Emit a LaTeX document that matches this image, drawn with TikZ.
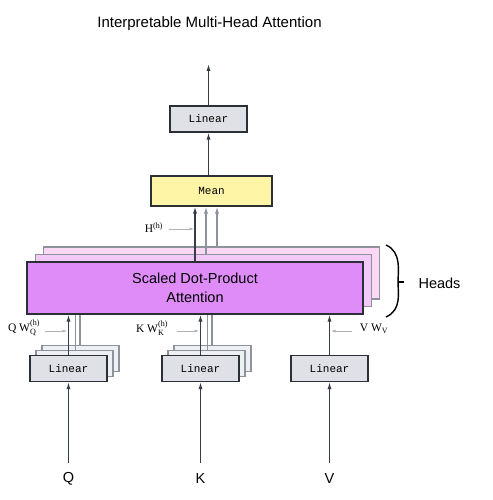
\documentclass[tikz,border=0pt]{standalone}
\usepackage{amsmath}
\usepackage{fontspec}
\setmainfont{Liberation Sans}
\newfontfamily\codefont{Liberation Mono}
\newfontfamily\labelfont{Liberation Serif}
\usetikzlibrary{arrows.meta}

\definecolor{ink}{HTML}{363C48}
\definecolor{edge}{HTML}{2B2F36}
\definecolor{faint}{HTML}{8E929C}
\definecolor{lingray}{HTML}{DFE1E6}
\definecolor{linpale}{HTML}{EEF0F3}
\definecolor{meanyel}{HTML}{FFF5A6}
\definecolor{attn}{HTML}{DF8CF9}
\definecolor{attnmid}{HTML}{F2C9F7}
\definecolor{attnback}{HTML}{FCD8F4}

\begin{document}
\begin{tikzpicture}[x=1pt,y=-1pt,>={Latex[length=7pt,width=4.2pt]},
  box/.style={draw=edge,line width=1.4pt,inner sep=0pt,minimum width=77pt,minimum height=26pt},
  linear/.style={box,fill=lingray,font=\codefont\fontsize{11}{13}\selectfont},
  linback/.style={box,draw=faint,fill=linpale},
  attbox/.style={box,minimum width=336pt,minimum height=52pt},
  flow/.style={->,draw=ink,line width=1.2pt},
  feed/.style={draw=faint,line width=1.1pt},
  tag/.style={font=\labelfont\fontsize{11.5}{13}\selectfont},
  pointer/.style={-{Latex[length=4.5pt,width=3pt]},draw=black!30,line width=0.6pt},
  big/.style={font=\fontsize{14.5}{17}\selectfont}]
\useasboundingbox (0,0) rectangle (492,500);

% title
\node[big,font=\fontsize{15}{17}\selectfont] (title) at (209.5,24) {Interpretable Multi-Head Attention};

% output part
\node[linear] (out) at (208.5,119) {Linear};
\coordinate (top) at (208.5,64);
\node[box,fill=meanyel,minimum width=121pt,minimum height=30pt,
  font=\codefont\fontsize{11}{13}\selectfont] (mean) at (211.5,191) {Mean};
\draw[flow] (out) -- (top);
\draw[flow] (mean.north -| out) -- (out);

% attention heads, back to front
\node[attbox,draw=faint,fill=attnback] (head3) at (211.5,273) {};
\node[attbox,draw=faint,fill=attnmid] (head2) at (203.5,280.5) {};
\node[attbox,fill=attn,align=center,big] (head1) at (195,288)
  {Scaled Dot-Product\\[2pt]Attention};

\draw[flow,draw=faint] (head3.north -| 217,0) -- (mean.south -| 217,0);
\draw[flow,draw=faint] (head2.north -| 206,0) -- (mean.south -| 206,0);
\draw[flow] (head1.north -| 195,0) -- (mean.south -| 195,0);

\node[tag] (hh) at (154,228) {H$^{\text{(h)}}$};
\draw[pointer] (hh.east) ++(2,1) coordinate (hhp) -- (hhp -| 194,0);

% brace for heads
\draw[line width=1.4pt,draw=black]
  (386,245) .. controls (402,252) and (398,272) .. (398,282)
  .. controls (398,292) and (402,310) .. (386,317);
\draw[line width=1.2pt] (398,282) -- (404,282);
\node[big,anchor=west] (heads) at (415,283) {Heads};

% input projections
\foreach \name/\xc/\inp in {q/68.5/Q,k/200.5/K}{
  \node[linback] (\name3) at (\xc+12,358.5) {};
  \node[linback] (\name2) at (\xc+6,363.5) {};
  \node[linear] (\name1) at (\xc,368.5) {Linear};
  \draw[feed] (\name3.north -| \xc+11.5,0) -- (head1.south -| \xc+11.5,0);
  \draw[feed] (\name2.north -| \xc+7,0) -- (head1.south -| \xc+7,0);
  \draw[flow] (\name1.north -| \xc,0) -- (head1.south -| \xc,0);
  \node[big] (\name in) at (\xc,479) {\inp};
  \coordinate (\name low) at (\xc,463);
  \draw[flow] (\name low) -- (\name1.south -| \name low);
}
\node[linear] (v1) at (329.5,368.5) {Linear};
\node[big] (vin) at (329.5,479) {V};
\coordinate (vlow) at (329.5,463);
\draw[flow] (vlow) -- (v1);
\draw[flow] (v1) -- (head1.south -| v1);

% projection labels
\node[tag] (qw) at (24,328) {Q W$_{\text{Q}}^{\text{(h)}}$};
\draw[pointer] (qw.east) ++(2,3) coordinate (qwp) -- (qwp -| 67,0);
\node[tag] (kw) at (152,328) {K W$_{\text{K}}^{\text{(h)}}$};
\draw[pointer] (kw.east) ++(6,3) coordinate (kwp) -- (kwp -| 199,0);
\node[tag] (vw) at (374,329) {V W$_{\text{V}}$};
\draw[pointer] (vw.west) ++(-4,2) coordinate (vwp) -- (vwp -| 331,0);
\end{tikzpicture}
\end{document}
